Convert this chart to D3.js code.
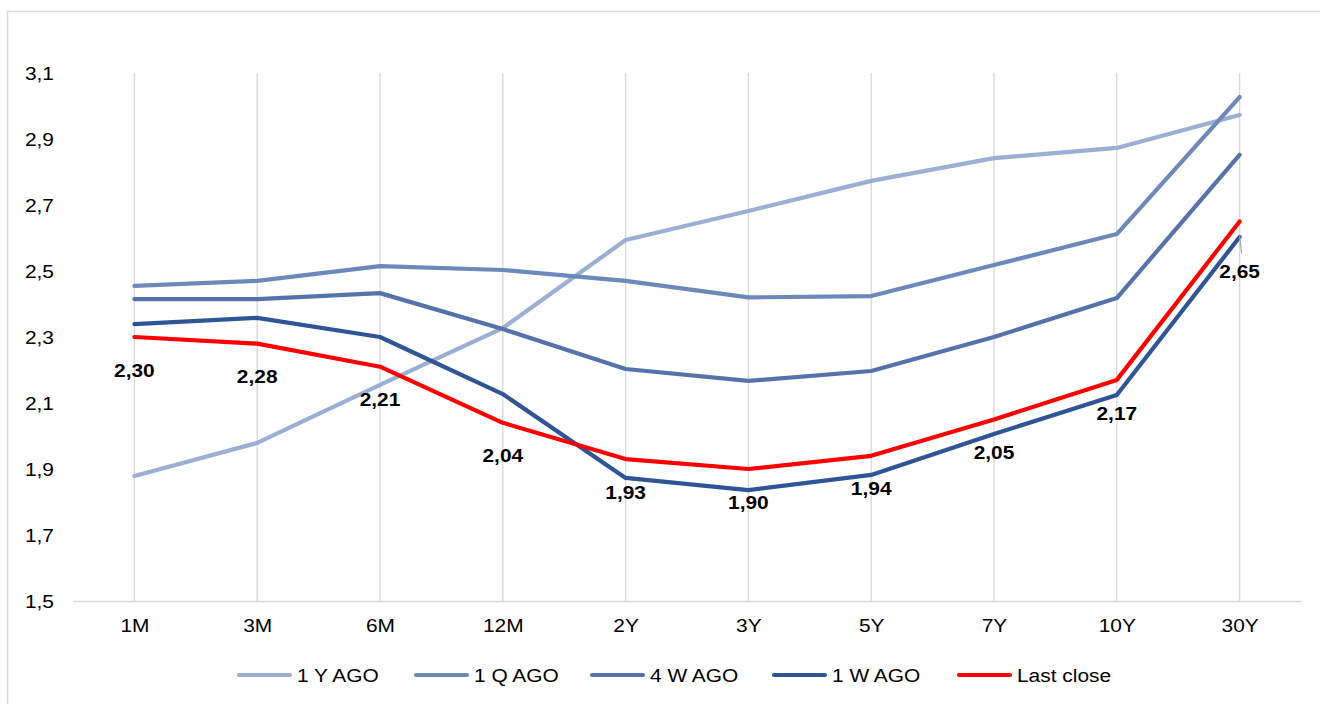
<!DOCTYPE html>
<html>
<head>
<meta charset="utf-8">
<script src="https://cdn.jsdelivr.net/npm/d3@7"></script>
<style>
  html, body { margin: 0; padding: 0; background: #fff; }
  svg { display: block; }
</style>
</head>
<body>
<svg id="chart" width="1320" height="704"></svg>
<script>
// Yield curve comparison: tenors on x, yield (%) on y
const tenors = ["1M", "3M", "6M", "12M", "2Y", "3Y", "5Y", "7Y", "10Y", "30Y"];
const yTicks = [1.5, 1.7, 1.9, 2.1, 2.3, 2.5, 2.7, 2.9, 3.1];

const oneYearAgo  = [1.879, 1.979, 2.155, 2.327, 2.594, 2.682, 2.773, 2.842, 2.873, 2.973];
const oneQuarterAgo = [2.455, 2.470, 2.515, 2.503, 2.470, 2.420, 2.424, 2.518, 2.612, 3.027];
const fourWeeksAgo = [2.415, 2.415, 2.433, 2.324, 2.203, 2.167, 2.197, 2.300, 2.418, 2.852];
const oneWeekAgo  = [2.339, 2.358, 2.300, 2.127, 1.873, 1.836, 1.882, 2.006, 2.124, 2.603];
const lastClose   = [2.30, 2.28, 2.21, 2.04, 1.93, 1.90, 1.94, 2.05, 2.17, 2.65];

const seriesNames = ["1 Y AGO", "1 Q AGO", "4 W AGO", "1 W AGO", "Last close"];
const seriesColors = ["#9aafd1", "#6d89ba", "#5573aa", "#2f5597", "#ff0000"];
const seriesValues = [oneYearAgo, oneQuarterAgo, fourWeeksAgo, oneWeekAgo, lastClose];

const svg = d3.select("#chart");
const font = "'Liberation Sans', Arial, sans-serif";
const stretch = "scale(1.1,1)"; // text is set slightly wide

// outer frame
svg.append("rect")
  .attr("x", 7.5).attr("y", 11.5)
  .attr("width", 1400).attr("height", 800)
  .attr("fill", "none").attr("stroke", "#d9d9d9").attr("stroke-width", 1.5);

const plot = { left: 73, right: 1301, top: 73, bottom: 601 };

const x = d3.scalePoint().domain(tenors).range([plot.left, plot.right]).padding(0.5);
const y = d3.scaleLinear().domain([1.5, 3.1]).range([plot.bottom, plot.top]);

// vertical gridlines at each tenor
svg.append("g")
  .selectAll("line")
  .data(tenors)
  .join("line")
  .attr("x1", d => x(d)).attr("x2", d => x(d))
  .attr("y1", plot.top).attr("y2", plot.bottom)
  .attr("stroke", "#d9d9d9").attr("stroke-width", 1.3);

// x axis
const xAxis = svg.append("g")
  .attr("transform", `translate(0,${plot.bottom})`)
  .call(d3.axisBottom(x).tickSize(0).tickPadding(18));
xAxis.select(".domain").attr("stroke", "#d9d9d9").attr("stroke-width", 1.5);
xAxis.selectAll("text")
  .attr("font-family", font).attr("font-size", 19).attr("fill", "#000")
  .attr("transform", stretch);

// y axis (labels only)
const yAxis = svg.append("g")
  .attr("transform", `translate(${plot.left - 19},0)`)
  .call(d3.axisLeft(y).tickValues(yTicks).tickSize(0).tickPadding(0)
    .tickFormat(d => d3.format(".1f")(d).replace(".", ",")));
yAxis.select(".domain").remove();
yAxis.selectAll("text")
  .attr("font-family", font).attr("font-size", 19).attr("fill", "#000")
  .attr("transform", stretch);

// series lines
const line = d3.line()
  .x((d, i) => x(tenors[i]))
  .y(d => y(d));

svg.append("g")
  .selectAll("path")
  .data(seriesValues)
  .join("path")
  .attr("d", d => line(d))
  .attr("fill", "none")
  .attr("stroke", (d, i) => seriesColors[i])
  .attr("stroke-width", 4.2)
  .attr("stroke-linejoin", "round")
  .attr("stroke-linecap", "round");

// value labels for last close
const fmt2 = v => d3.format(".2f")(v).replace(".", ",");
const labelOffset = tenors.map((t, i) => i === tenors.length - 1 ? 50 : 33);
const labels = svg.append("g");
lastClose.forEach((v, i) => {
  const cx = x(tenors[i]);
  const cy = y(v) + labelOffset[i];
  if (i === tenors.length - 1) {
    labels.append("line")
      .attr("x1", cx).attr("y1", y(v) + 14)
      .attr("x2", cx + 2).attr("y2", y(v) + 32)
      .attr("stroke", "#a6a6a6").attr("stroke-width", 1.2);
  }
  labels.append("g")
    .attr("transform", `translate(${cx},${cy})`)
    .append("text")
    .attr("transform", stretch)
    .attr("text-anchor", "middle")
    .attr("dominant-baseline", "central")
    .attr("font-family", font).attr("font-size", 19).attr("font-weight", "bold")
    .attr("fill", "#000")
    .text(fmt2(v));
});

// legend
const legendX = [239, 416, 592, 774, 959];
const legendY = 675;
const legend = svg.append("g");
seriesNames.forEach((name, i) => {
  legend.append("line")
    .attr("x1", legendX[i]).attr("x2", legendX[i] + 51)
    .attr("y1", legendY).attr("y2", legendY)
    .attr("stroke", seriesColors[i]).attr("stroke-width", 4.2)
    .attr("stroke-linecap", "round");
  legend.append("g")
    .attr("transform", `translate(${legendX[i] + 58},${legendY})`)
    .append("text")
    .attr("transform", stretch)
    .attr("dominant-baseline", "central")
    .attr("font-family", font).attr("font-size", 19)
    .attr("fill", "#000")
    .text(name);
});
</script>
</body>
</html>
